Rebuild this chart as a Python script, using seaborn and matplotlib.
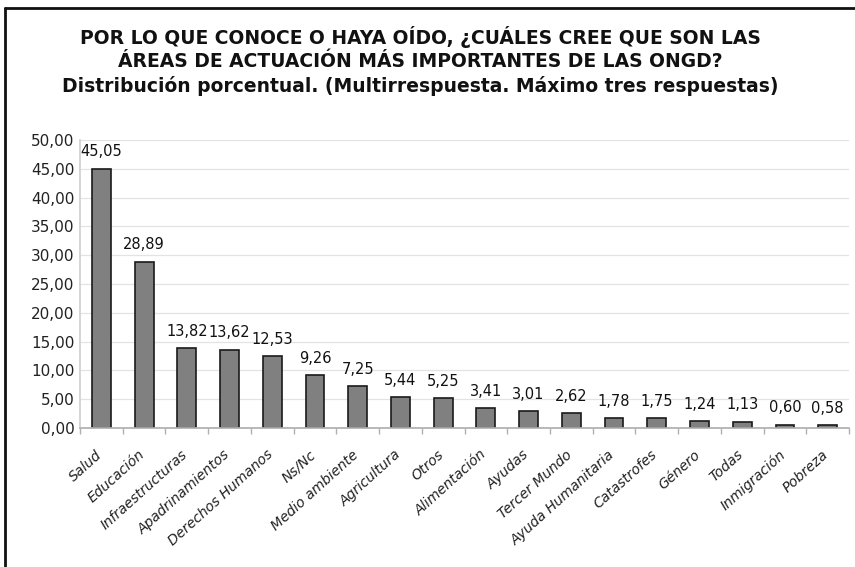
import numpy as np
import pandas as pd
import seaborn as sns
from matplotlib import pyplot as plt
from matplotlib.lines import Line2D
from matplotlib.ticker import FuncFormatter, FixedLocator
from matplotlib.transforms import ScaledTranslation

categorias = [
    'Salud', 'Educación', 'Infraestructuras', 'Apadrinamientos',
    'Derechos Humanos', 'Ns/Nc', 'Medio ambiente', 'Agricultura', 'Otros',
    'Alimentación', 'Ayudas', 'Tercer Mundo', 'Ayuda Humanitaria',
    'Catastrofes', 'Género', 'Todas', 'Inmigración', 'Pobreza',
]
porcentajes = [45.05, 28.89, 13.82, 13.62, 12.53, 9.26, 7.25, 5.44, 5.25,
               3.41, 3.01, 2.62, 1.78, 1.75, 1.24, 1.13, 0.60, 0.58]
y_ticks = [0, 5, 10, 15, 20, 25, 30, 35, 40, 45, 50]

TITLE = ('POR LO QUE CONOCE O HAYA OÍDO, ¿CUÁLES CREE QUE SON LAS\n'
         'ÁREAS DE ACTUACIÓN MÁS IMPORTANTES DE LAS ONGD?\n'
         'Distribución porcentual. (Multirrespuesta. Máximo tres respuestas)')


def coma(v, pos=None):
    return f'{v:.2f}'.replace('.', ',')


def main():
    sns.set_theme(style='white')
    plt.rcParams['font.family'] = ['DejaVu Sans']

    df = pd.DataFrame({'area': categorias, 'pct': porcentajes})

    fig = plt.figure(figsize=(8.55, 5.67), dpi=100)
    ax = fig.add_axes([0.0936, 0.245, 0.8994, 0.508])

    sns.barplot(data=df, x='area', y='pct', color='#808080', saturation=1,
                edgecolor='#1a1a1a', linewidth=1.2, width=0.44, ax=ax)

    for p, v in zip(ax.patches, porcentajes):
        ax.text(p.get_x() + p.get_width() / 2, v + 1.6, coma(v),
                ha='center', va='bottom', fontsize=10.5, color='#111111')

    ax.set_ylim(0, 50)
    ax.set_xlim(-0.5, len(categorias) - 0.5)
    ax.yaxis.set_major_locator(FixedLocator(y_ticks))
    ax.yaxis.set_major_formatter(FuncFormatter(coma))
    ax.yaxis.grid(True, color='#e3e3e3', linewidth=0.9)
    ax.set_axisbelow(True)
    ax.set_xlabel('')
    ax.set_ylabel('')

    for s in ['top', 'right']:
        ax.spines[s].set_visible(False)
    ax.spines['left'].set_color('#d0d0d0')
    ax.spines['bottom'].set_color('#b0b0b0')

    ax.tick_params(axis='y', labelsize=11, colors='#222222', length=0, pad=4)
    ax.set_xticks(range(len(categorias)))
    ax.set_xticklabels(categorias, rotation=42, ha='right',
                       rotation_mode='anchor', fontstyle='italic',
                       fontsize=10, color='#222222')
    ax.tick_params(axis='x', length=0, pad=14)
    shift = ScaledTranslation(-6 / 100, 0, fig.dpi_scale_trans)
    for lab in ax.get_xticklabels():
        lab.set_transform(lab.get_transform() + shift)
    ax.set_xticks(np.arange(-0.5, len(categorias), 1), minor=True)
    ax.tick_params(axis='x', which='minor', length=4, color='#b0b0b0',
                   bottom=True)

    fig.text(0.492, 0.955, TITLE, ha='center', va='top', fontsize=13.5,
             fontweight='bold', linespacing=1.3, color='#111111')

    # marco del documento (cortado a la derecha y abajo)
    fig.add_artist(Line2D([0.006, 0.006], [0, 0.986], color='#111111',
                          linewidth=2, transform=fig.transFigure))
    fig.add_artist(Line2D([0.006, 1.0], [0.986, 0.986], color='#111111',
                          linewidth=2, transform=fig.transFigure))

    plt.savefig('out.png', dpi=100, facecolor='white')


if __name__ == '__main__':
    main()
